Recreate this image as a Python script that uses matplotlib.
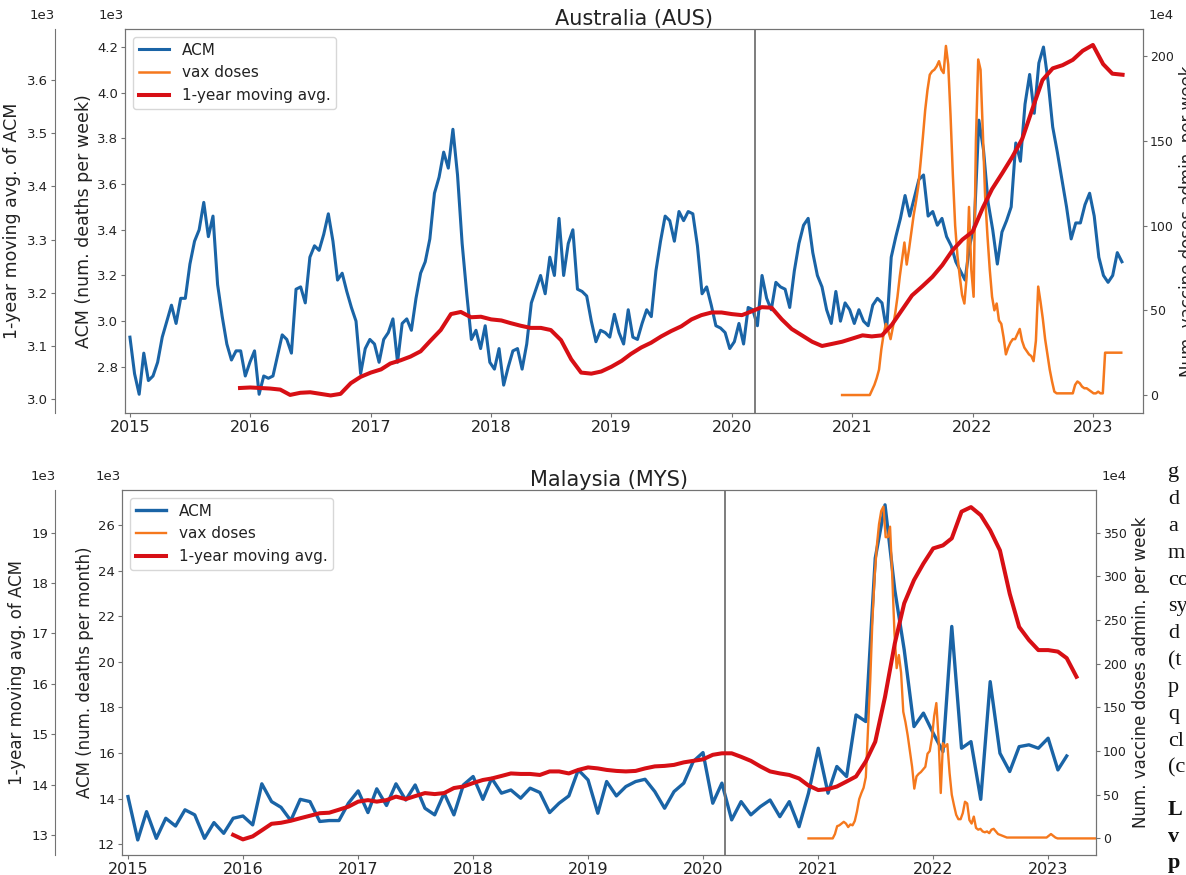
import numpy as np
import pandas as pd
import matplotlib
matplotlib.use("Agg")
import matplotlib.pyplot as plt
import matplotlib.dates as mdates
from matplotlib.ticker import FormatStrFormatter

plt.rcParams['font.family'] = ['DejaVu Sans']
plt.rcParams['axes.edgecolor'] = '0.45'
plt.rcParams['xtick.color'] = '0.45'
plt.rcParams['ytick.color'] = '0.45'
plt.rcParams['xtick.labelcolor'] = '#222222'
plt.rcParams['ytick.labelcolor'] = '#222222'
plt.rcParams['text.color'] = '#222222'
plt.rcParams['axes.labelcolor'] = '#222222'

BLUE = '#1a64a6'
ORANGE = '#f5781d'
RED = '#d70f15'

#---------------- Australia ----------------
#all-cause mortality, thousands per week, sampled every 2 weeks from 2015-01-01
aus_acm = [2.93, 2.77, 2.68, 2.86, 2.74, 2.76, 2.82, 2.93, 3.00, 3.07, 2.99, 3.10, 3.10,
           3.25, 3.35, 3.40, 3.52, 3.37, 3.46, 3.16, 3.02, 2.90, 2.83, 2.87, 2.87, 2.76, 2.82,
           2.87, 2.68, 2.76, 2.75, 2.76, 2.85, 2.94, 2.92, 2.86, 3.14, 3.15, 3.08, 3.28,
           3.33, 3.31, 3.38, 3.47, 3.35, 3.18, 3.21, 3.13, 3.06, 3.00, 2.77, 2.88, 2.92,
           2.90, 2.82, 2.92, 2.95, 3.01, 2.82, 2.99, 3.01, 2.96, 3.10, 3.21, 3.26, 3.36,
           3.56, 3.63, 3.74, 3.67, 3.84, 3.64, 3.34, 3.12, 2.92, 2.96, 2.88, 2.98, 2.82,
           2.79, 2.88, 2.72, 2.80, 2.87, 2.88, 2.79, 2.90, 3.08, 3.14, 3.20, 3.12, 3.28,
           3.20, 3.45, 3.20, 3.34, 3.40, 3.14, 3.13, 3.11, 3.00, 2.91, 2.96, 2.95, 2.93,
           3.03, 2.95, 2.90, 3.05, 2.93, 2.92, 2.99, 3.05, 3.02, 3.22, 3.35, 3.46, 3.44,
           3.35, 3.48, 3.44, 3.48, 3.47, 3.33, 3.12, 3.15, 3.07, 2.98, 2.97, 2.95, 2.88,
           2.91, 2.99, 2.90, 3.06, 3.05, 2.98, 3.20, 3.10, 3.05, 3.17, 3.15, 3.14, 3.06,
           3.22, 3.34, 3.42, 3.45, 3.30, 3.20, 3.15, 3.05, 2.99, 3.13, 3.00, 3.08, 3.05,
           2.99, 3.05, 3.00, 2.98, 3.07, 3.10, 3.08, 2.96, 3.28, 3.37, 3.45, 3.55, 3.46,
           3.54, 3.62, 3.64, 3.46, 3.48, 3.42, 3.45, 3.37, 3.33, 3.26, 3.22, 3.18, 3.33,
           3.42, 3.88, 3.75, 3.52, 3.40, 3.25, 3.39, 3.44, 3.50, 3.78, 3.70, 3.95, 4.08,
           3.91, 4.13, 4.20, 4.05, 3.85, 3.74, 3.62, 3.50, 3.36, 3.43, 3.43, 3.51, 3.56,
           3.46, 3.28, 3.20, 3.17, 3.20, 3.30, 3.26]
#1-year moving average, thousands, monthly from 2015-12
aus_ma = [3.021, 3.022, 3.021, 3.020, 3.018, 3.008, 3.012, 3.013, 3.010, 3.007, 3.010, 3.030,
          3.042, 3.050, 3.056, 3.067, 3.073, 3.080, 3.090, 3.110, 3.130, 3.160, 3.164, 3.154,
          3.155, 3.150, 3.148, 3.143, 3.138, 3.134, 3.134, 3.130, 3.111, 3.075, 3.050, 3.048,
          3.052, 3.061, 3.072, 3.085, 3.097, 3.106, 3.118, 3.128, 3.137, 3.150, 3.158, 3.163,
          3.163, 3.160, 3.158, 3.165, 3.173, 3.172, 3.150, 3.132, 3.120, 3.108, 3.100, 3.104,
          3.108, 3.114, 3.120, 3.118, 3.120, 3.140, 3.168, 3.195, 3.212, 3.230, 3.252, 3.280,
          3.300, 3.315, 3.360, 3.395, 3.425, 3.455, 3.490, 3.545, 3.600, 3.622, 3.628, 3.638,
          3.655, 3.666, 3.630, 3.612, 3.610]
#vaccine doses, units of 1e4 per week, weekly from 2020-12-01
aus_vax = ([0] * 13 +
           [3, 6, 10, 15, 27, 36, 42, 38, 33, 40, 48, 58, 70, 80, 90, 77, 86, 96, 106, 114,
            123, 137, 152, 168, 180, 189, 191, 192, 194, 197, 192, 190, 206, 195, 165, 130,
            100, 82, 70, 59, 54, 70, 111, 74, 58, 150, 198, 192, 155, 117, 94, 74, 58, 50,
            54, 44, 42, 34, 24, 28, 31, 33, 33, 36, 39, 32, 28, 26, 24, 23, 20, 32, 64, 55,
            45, 33, 24, 15, 8, 2] +
           [1] * 8 +
           [6, 8, 7, 5, 4, 4, 3, 2, 1, 1, 2, 1, 1] +
           [25] * 8)

#---------------- Malaysia ----------------
#all-cause mortality, thousands per month, from 2015-01
mys_acm = [14.09, 12.19, 13.43, 12.26, 13.14, 12.80, 13.51, 13.29, 12.26, 12.95, 12.48, 13.14,
           13.24, 12.85, 14.65, 13.87, 13.62, 13.04, 13.97, 13.87, 13.00, 13.04, 13.04, 13.80,
           14.34, 13.39, 14.43, 13.70, 14.65, 13.94, 14.60, 13.58, 13.29, 14.24, 13.29, 14.60,
           14.97, 13.97, 14.89, 14.24, 14.38, 14.02, 14.46, 14.27, 13.39, 13.80, 14.12, 15.26,
           14.82, 13.36, 14.75, 14.12, 14.53, 14.75, 14.85, 14.31, 13.58, 14.31, 14.68, 15.63,
           16.02, 13.80, 14.68, 13.07, 13.87, 13.29, 13.65, 13.94, 13.21, 13.87, 12.77, 14.24,
           16.21, 14.24, 15.41, 14.97, 17.67, 17.38, 24.54, 26.88, 23.15, 20.52, 17.16, 17.75,
           16.87, 16.06, 21.55, 16.21, 16.50, 13.97, 19.13, 15.99, 15.19, 16.28, 16.36, 16.21,
           16.65, 15.26, 15.87]
#1-year moving average, thousands, monthly from 2015-12
mys_ma = [13.00, 12.91, 12.97, 13.09, 13.22, 13.24, 13.28, 13.33, 13.38, 13.43, 13.44, 13.50,
          13.56, 13.66, 13.69, 13.66, 13.69, 13.76, 13.71, 13.77, 13.83, 13.81, 13.83, 13.93,
          13.96, 14.03, 14.09, 14.12, 14.17, 14.22, 14.21, 14.21, 14.19, 14.26, 14.26, 14.22,
          14.29, 14.34, 14.32, 14.29, 14.27, 14.26, 14.27, 14.32, 14.36, 14.37, 14.39, 14.44,
          14.47, 14.50, 14.59, 14.62, 14.62, 14.55, 14.47, 14.36, 14.26, 14.22, 14.19, 14.12,
          13.98, 13.89, 13.91, 13.96, 14.06, 14.16, 14.46, 14.85, 15.74, 16.80, 17.60, 18.06,
          18.39, 18.69, 18.75, 18.89, 19.42, 19.51, 19.35, 19.05, 18.65, 17.79, 17.13, 16.87,
          16.67, 16.67, 16.64, 16.51, 16.14]
#vaccine doses, units of 1e4 per week, weekly from 2020-12-01
mys_vax = ([0] * 12 +
           [5, 14, 15, 17, 19, 17, 13, 16, 15, 20, 31, 45, 52, 58, 70, 125, 180, 250, 300, 335,
            360, 375, 380, 345, 345, 357, 300, 235, 195, 210, 190, 145, 133, 118, 100, 82, 57,
            71, 74, 76, 79, 82, 97, 100, 115, 140, 155, 115, 52, 109, 105, 108, 75, 50, 38, 27,
            22, 22, 29, 42, 40, 21, 17, 25, 12, 10, 11, 8, 7, 8, 6, 10, 11, 8, 5, 4, 3, 2] +
           [1] * 19 +
           [3, 5, 3, 1] +
           [0] * 18)

pandemic_day = pd.Timestamp('2020-03-11')

#date axes for each series
aus_acm_x = pd.date_range('2015-01-01', periods=len(aus_acm), freq='14D')
aus_ma_x = pd.date_range('2015-12-01', periods=len(aus_ma), freq='MS')
aus_vax_x = pd.date_range('2020-12-01', periods=len(aus_vax), freq='7D')
mys_acm_x = pd.date_range('2015-01-01', periods=len(mys_acm), freq='MS')
mys_ma_x = pd.date_range('2015-12-01', periods=len(mys_ma), freq='MS')
mys_vax_x = pd.date_range('2020-12-01', periods=len(mys_vax), freq='7D')


def panel(fig, rect, title, acm_x, acm, ma_x, ma, vax_x, vax, acm_label,
          acm_lim, acm_ticks, acm_fmt, ma_lim, ma_ticks, ma_fmt, vax_lim, vax_ticks,
          xlim, ma_offset, lws, label_size):
	ax = fig.add_axes(rect)
	ax_vax = ax.twinx()
	ax_ma = ax.twinx()

	l1, = ax.plot(acm_x, acm, color=BLUE, lw=lws[0], label='ACM')
	l2, = ax_vax.plot(vax_x, vax, color=ORANGE, lw=lws[1], label='vax doses')
	l3, = ax_ma.plot(ma_x, ma, color=RED, lw=lws[2], label='1-year moving avg.')
	ax.axvline(pandemic_day, color='0.45', lw=1.3)

	ax.set_xlim(pd.Timestamp(xlim[0]), pd.Timestamp(xlim[1]))
	ax.xaxis.set_major_locator(mdates.YearLocator())
	ax.xaxis.set_major_formatter(mdates.DateFormatter('%Y'))
	ax.tick_params(axis='x', labelsize=11.5, length=3, pad=2)

	#left ACM axis
	ax.set_ylim(acm_lim)
	ax.set_yticks(acm_ticks)
	ax.yaxis.set_major_formatter(FormatStrFormatter(acm_fmt))
	ax.tick_params(axis='y', labelsize=9.5, length=3, pad=2)
	ax.set_ylabel(acm_label, fontsize=label_size, labelpad=3)
	ax.annotate('1e3', xy=(0, 1), xycoords='axes fraction', xytext=(-1, 5),
	            textcoords='offset points', ha='right', va='bottom', fontsize=9.5)

	#right vaccine axis
	ax_vax.set_ylim(vax_lim)
	ax_vax.set_yticks(vax_ticks)
	ax_vax.tick_params(axis='y', labelsize=9, length=3, pad=2)
	ax_vax.set_ylabel('Num. vaccine doses admin. per week', fontsize=12, labelpad=4)
	ax_vax.annotate('1e4', xy=(1, 1), xycoords='axes fraction', xytext=(4, 5),
	                textcoords='offset points', ha='left', va='bottom', fontsize=9.5)

	#far left moving average axis
	ax_ma.yaxis.tick_left()
	ax_ma.yaxis.set_label_position('left')
	for side in ['right', 'top', 'bottom']:
		ax_ma.spines[side].set_visible(False)
	ax_ma.spines['left'].set_position(('outward', ma_offset))
	ax_ma.set_ylim(ma_lim)
	ax_ma.set_yticks(ma_ticks)
	ax_ma.yaxis.set_major_formatter(FormatStrFormatter(ma_fmt))
	ax_ma.tick_params(axis='y', labelsize=9.5, length=3, pad=2)
	ax_ma.set_ylabel('1-year moving avg. of ACM', fontsize=label_size, labelpad=4)
	ax_ma.annotate('1e3', xy=(0, 1), xycoords='axes fraction', xytext=(-ma_offset, 5),
	               textcoords='offset points', ha='right', va='bottom', fontsize=9.5)

	ax.set_title(title, fontsize=15, pad=3)
	ax_ma.legend(handles=[l1, l2, l3], loc='upper left', fontsize=11,
	             framealpha=0.85, edgecolor='0.82')
	return ax


fig = plt.figure(figsize=(11.86, 8.75), dpi=100)

panel(fig, [125 / 1186, 1 - 413 / 875, 1018 / 1186, 384 / 875], 'Australia (AUS)',
      aus_acm_x, aus_acm, aus_ma_x, aus_ma, aus_vax_x, aus_vax,
      'ACM (num. deaths per week)',
      (2.598, 4.279), np.arange(2.8, 4.21, 0.2), '%.1f',
      (2.974, 3.696), np.arange(3.0, 3.61, 0.1), '%.1f',
      (-10.6, 216), np.arange(0, 201, 50),
      ('2014-12-17', '2023-06-02'), 50.5, (2.2, 1.8, 2.9), 12.5)

panel(fig, [122 / 1186, 1 - 855 / 875, 974 / 1186, 365 / 875], 'Malaysia (MYS)',
      mys_acm_x, mys_acm, mys_ma_x, mys_ma, mys_vax_x, mys_vax,
      'ACM (num. deaths per month)',
      (11.53, 27.53), np.arange(12, 27, 2), '%d',
      (12.60, 19.85), np.arange(13, 20, 1), '%d',
      (-19, 399), np.arange(0, 351, 50),
      ('2014-12-13', '2023-06-02'), 48, (2.4, 1.7, 2.9), 12)

#fragments of the surrounding page text, clipped at the right edge
page_lines = ['g', 'd', 'a', 'm', 'co', 'sy', 'd', '(t', 'p', 'q', 'cl', '(c']
page_bold = ['L', 'v', 'p']
for i, s in enumerate(page_lines):
	fig.text(1168 / 1186, 1 - (473 + 26.8 * i) / 875, s, family='Liberation Serif',
	         fontsize=16, va='center', ha='left', color='#111111')
for i, s in enumerate(page_bold):
	fig.text(1168 / 1186, 1 - (810 + 26.5 * i) / 875, s, family='Liberation Serif',
	         fontsize=16, fontweight='bold', va='center', ha='left', color='#111111')

fig.savefig('out.png', dpi=100)
